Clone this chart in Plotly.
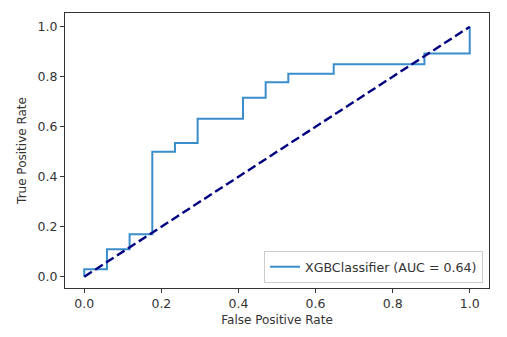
import plotly.graph_objects as go

# ROC curve corner points
fpr = [0.0, 0.0, 0.0588, 0.1176, 0.1765, 0.2353, 0.2941, 0.4118, 0.4706, 0.5294, 0.6471, 0.8824, 1.0]
tpr = [0.0, 0.03, 0.11, 0.17, 0.50, 0.535, 0.632, 0.716, 0.778, 0.812, 0.85, 0.893, 1.0]
chance_x = [0.0, 1.0]
chance_y = [0.0, 1.0]
auc_label = "XGBClassifier (AUC = 0.64)"
tick_vals = [0.0, 0.2, 0.4, 0.6, 0.8, 1.0]

FONT = "DejaVu Sans"
FS = 12.5
fig = go.Figure()
fig.add_trace(go.Scatter(
    x=fpr, y=tpr, mode="lines", line_shape="hv",
    line=dict(color="#3a8dcb", width=2), name=auc_label, showlegend=True,
))
fig.add_trace(go.Scatter(
    x=chance_x, y=chance_y, mode="lines",
    line=dict(color="navy", width=2.4, dash="9px,4px"), showlegend=False,
))

axis_common = dict(
    showgrid=False, zeroline=False, showline=True, linecolor="#333", linewidth=1,
    mirror=True, ticks="outside", ticklen=4, tickwidth=1, tickcolor="#333",
    tickvals=tick_vals, tickformat=".1f",
    tickfont=dict(family=FONT, size=FS, color="#333"),
)
fig.update_xaxes(range=[-0.05, 1.05], title=dict(text="False Positive Rate",
                 font=dict(family=FONT, size=12, color="#333"), standoff=5), **axis_common)
fig.update_yaxes(range=[-0.045, 1.055], title=dict(text="True Positive Rate",
                 font=dict(family=FONT, size=12, color="#333"), standoff=8), **axis_common)

fig.update_layout(
    width=507, height=337,
    margin=dict(l=65, r=18, t=13, b=49),
    paper_bgcolor="white", plot_bgcolor="white",
    font=dict(family=FONT, size=FS, color="#333"),
    legend=dict(x=0.986, y=0.018, xanchor="right", yanchor="bottom",
                bgcolor="rgba(255,255,255,0.8)", bordercolor="#ccc", borderwidth=1,
                font=dict(family=FONT, size=12.6, color="#333")),
)
fig.write_html("out.html")
